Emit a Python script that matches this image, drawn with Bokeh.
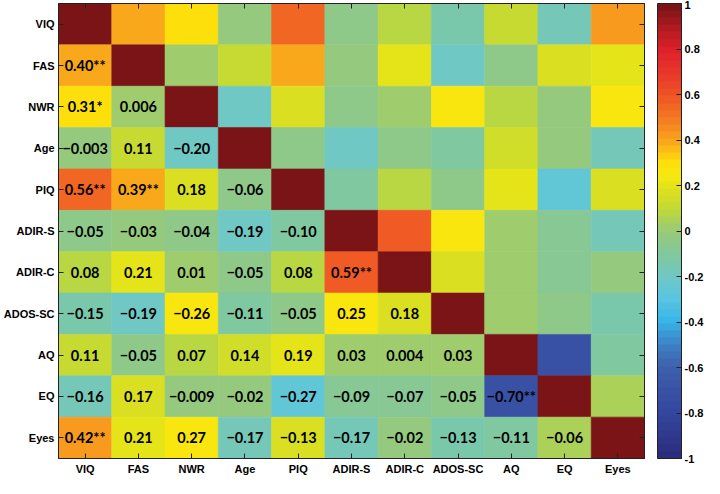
import numpy as np
from bokeh.plotting import figure
from bokeh.models import (ColumnDataSource, LinearColorMapper, ColorBar, FixedTicker,
                          CategoricalAxis, FactorRange, PrintfTickFormatter)
from bokeh.core.properties import value
from bokeh.embed import file_html
from bokeh.resources import INLINE

variables = ["VIQ", "FAS", "NWR", "Age", "PIQ", "ADIR-S", "ADIR-C", "ADOS-SC", "AQ", "EQ", "Eyes"]

# printed coefficients (lower triangle, row by row)
labels_lower = [
    [],
    ["0.40**"],
    ["0.31*", "0.006"],
    ["\u22120.003", "0.11", "\u22120.20"],
    ["0.56**", "0.39**", "0.18", "\u22120.06"],
    ["\u22120.05", "\u22120.03", "\u22120.04", "\u22120.19", "\u22120.10"],
    ["0.08", "0.21", "0.01", "\u22120.05", "0.08", "0.59**"],
    ["\u22120.15", "\u22120.19", "\u22120.26", "\u22120.11", "\u22120.05", "0.25", "0.18"],
    ["0.11", "\u22120.05", "0.07", "0.14", "0.19", "0.03", "0.004", "0.03"],
    ["\u22120.16", "0.17", "\u22120.009", "\u22120.02", "\u22120.27", "\u22120.09", "\u22120.07", "\u22120.05", "\u22120.70**"],
    ["0.42**", "0.21", "0.27", "\u22120.17", "\u22120.13", "\u22120.17", "\u22120.02", "\u22120.13", "\u22120.11", "\u22120.06"],
]

# values shown by the cell colours (symmetric matrix, lower triangle)
colors_lower = [
    [],
    [0.40],
    [0.31, 0.006],
    [-0.003, 0.11, -0.20],
    [0.56, 0.39, 0.18, -0.06],
    [-0.05, -0.03, -0.04, -0.19, -0.10],
    [0.08, 0.21, 0.01, -0.05, 0.08, 0.59],
    [-0.15, -0.19, 0.26, -0.11, -0.05, 0.25, 0.18],
    [0.11, -0.05, 0.07, 0.14, 0.19, 0.03, 0.004, 0.03],
    [-0.16, 0.17, -0.009, -0.02, -0.27, -0.09, -0.07, -0.05, -0.70],
    [0.42, 0.21, 0.27, -0.17, 0.17, -0.17, -0.02, -0.13, -0.11, 0.05],
]

colorbar_ticks = [-1, -0.8, -0.6, -0.4, -0.2, 0, 0.2, 0.4, 0.6, 0.8, 1]

# colour map anchors (style)
anchor_pos = [-1.0, -0.9, -0.8, -0.7, -0.6, -0.5, -0.4, -0.3, -0.2, -0.1, 0.0,
              0.1, 0.2, 0.25, 0.3, 0.4, 0.5, 0.6, 0.7, 0.8, 0.9, 1.0]
anchor_col = ["#2a2d7c", "#2f3b8f", "#3448a0", "#3953a6", "#3d62ae", "#3c86c8", "#38b6e8",
              "#5ac5de", "#70c8c2", "#82c89c", "#98ca78", "#c2d935", "#e2e31a", "#f8ea12",
              "#fde00b", "#f9a61d", "#f47b22", "#ef5524", "#e8382a", "#e0222b", "#b51a22",
              "#7a1416"]


def hex2rgb(h):
    return [int(h[i:i + 2], 16) for i in (1, 3, 5)]


rgb = np.array([hex2rgb(c) for c in anchor_col], dtype=float)
n_levels = 64
centers = np.linspace(-1, 1, n_levels)
palette = []
for c in centers:
    r = np.interp(c, anchor_pos, rgb[:, 0])
    g = np.interp(c, anchor_pos, rgb[:, 1])
    b = np.interp(c, anchor_pos, rgb[:, 2])
    palette.append("#%02x%02x%02x" % (int(round(r)), int(round(g)), int(round(b))))

xs, ys, vs, ts = [], [], [], []
n = len(variables)
for i in range(n):
    for j in range(n):
        xs.append(variables[j])
        ys.append(variables[i])
        if i == j:
            vs.append(1.0)
            ts.append("")
        elif j < i:
            vs.append(colors_lower[i][j])
            ts.append(labels_lower[i][j])
        else:
            vs.append(colors_lower[j][i])
            ts.append("")

src = ColumnDataSource(dict(x=xs, y=ys, v=vs, t=ts))
mapper = LinearColorMapper(palette=palette, low=-1, high=1)

FW, FH = 586, 455
p = figure(frame_width=FW, frame_height=FH, output_backend="svg", toolbar_location=None,
           x_range=FactorRange(*variables), y_range=FactorRange(*reversed(variables)),
           min_border=0, min_border_left=0, min_border_right=60, min_border_top=3, min_border_bottom=0)

p.rect(x="x", y="y", width=1, height=1, source=src,
       fill_color={"field": "v", "transform": mapper},
       line_color={"field": "v", "transform": mapper}, line_width=0.6)
p.text(x="x", y="y", text="t", source=src, text_align="center", text_baseline="middle",
       text_font=value("Lato"), text_font_style="bold", text_font_size="14.5px", text_color="black")

p.grid.visible = False
p.outline_line_color = "#222222"
p.outline_line_width = 1

for ax in (p.xaxis[0], p.yaxis[0]):
    ax.major_tick_in = 5
    ax.major_tick_out = 0
    ax.major_tick_line_color = "#222222"
    ax.axis_line_color = "#222222"
    ax.major_label_text_font = "Liberation Sans"
    ax.major_label_text_font_style = "bold"
    ax.major_label_text_font_size = "11px"
    ax.major_label_text_color = "black"
    ax.major_label_standoff = 4

# tick-only axes on the top and right edges (labels not drawn)
for loc in ("above", "right"):
    ax = CategoricalAxis(major_tick_in=5, major_tick_out=0, major_label_text_font_size="1px",
                         major_label_text_color=None, major_label_standoff=0,
                         axis_line_color="#222222", major_tick_line_color="#222222")
    p.add_layout(ax, loc)

cb = ColorBar(color_mapper=mapper, ticker=FixedTicker(ticks=colorbar_ticks),
              formatter=PrintfTickFormatter(format="%g"),
              location=(FW + 13, 0), width=24, height=FH, padding=0, margin=0, label_standoff=3,
              major_tick_in=5, major_tick_out=0, major_tick_line_color="#222222",
              bar_line_color="#222222", border_line_color=None, background_fill_color=None,
              major_label_text_font="Liberation Sans", major_label_text_font_style="bold",
              major_label_text_font_size="11px", major_label_text_color="black")
p.add_layout(cb, "center")

open("out.html", "w").write(file_html(p, INLINE))
